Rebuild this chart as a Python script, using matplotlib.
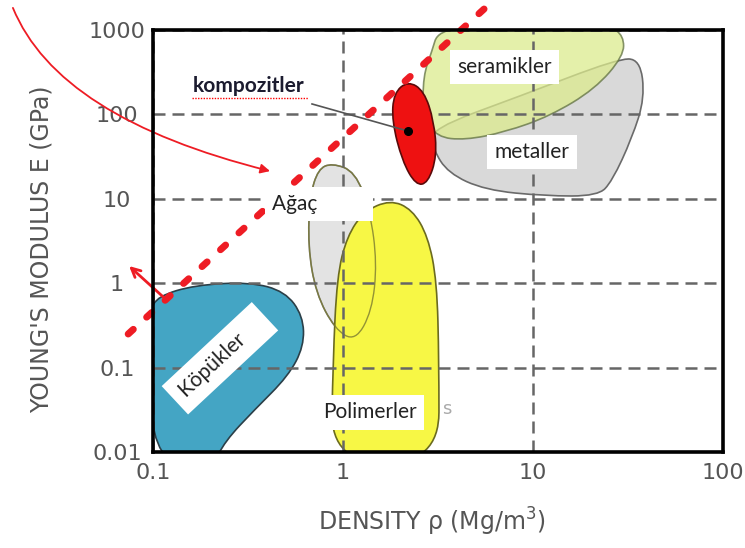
import numpy as np
import matplotlib
matplotlib.use("Agg")
import matplotlib.pyplot as plt
from matplotlib.path import Path
from matplotlib.patches import PathPatch, FancyArrowPatch

# outlines of the material families, density (Mg/m3) vs modulus (GPa)
foam_rho = [0.0964, 0.0964, 0.106, 0.166, 0.324, 0.495, 0.616, 0.623, 0.514, 0.344, 0.239, 0.205]
foam_E = [0.0078, 0.466, 0.70, 0.95, 1.03, 0.80, 0.41, 0.179, 0.079, 0.032, 0.0134, 0.0067]

poly_rho = [0.865, 0.886, 0.93, 1.05, 1.29, 1.77, 2.31, 2.80, 3.12, 3.2, 3.2]
poly_E = [0.0074, 0.119, 1.21, 3.6, 7.1, 9.7, 7.5, 3.6, 1.06, 0.119, 0.0074]

wood_rho = [0.875, 1.16, 1.39, 1.51, 1.42, 1.16, 0.908, 0.72, 0.654, 0.67, 0.74]
wood_E = [26.5, 21, 7.1, 1.73, 0.466, 0.205, 0.284, 0.76, 2.75, 10.8, 22.5]

cer_rho = [2.94, 3.16, 5.26, 12.3, 25.4, 30.0, 30.0, 21.2, 12.3, 7.12, 4.39, 3.12, 2.64, 2.64]
cer_E = [565, 975, 1150, 1150, 1119, 851, 493, 200, 95.7, 61.8, 49.7, 53.9, 95.7, 285]

met_rho = [2.87, 8.55, 27.7, 36.6, 38.8, 33.2, 26.1, 22.0, 11.6, 5.59, 3.57, 2.98]
met_E = [67, 165, 454, 454, 157, 52.5, 16.2, 10.8, 10.8, 12.7, 20.2, 38.9]

comp_rho = [2.2, 2.67, 3.01, 3.12, 2.8, 2.42, 2.05, 1.81, 1.85]
comp_E = [249, 190, 83.5, 32.1, 15.4, 14.5, 28, 83.5, 179]
comp_point = (2.2, 63.5)

# E^(1/2)/rho guide line
guide_rho = [0.074, 6.0]
guide_E = [0.25, 2100]

x_ticks = [0.1, 1, 10, 100]
x_labels = ["0.1", "1", "10", "100"]
y_ticks = [0.01, 0.1, 1, 10, 100, 1000]
y_labels = ["0.01", "0.1", "1", "10", "100", "1000"]

RED = "#ee1c24"


def smooth_patch(ax, xs, ys, **kw):
    # closed quadratic b-spline through the outline points (geometric midpoints for log axes)
    pts = np.column_stack([xs, ys]).astype(float)
    mids = np.sqrt(pts * np.roll(pts, -1, axis=0))
    verts = [mids[-1]]
    codes = [Path.MOVETO]
    for i in range(len(pts)):
        verts += [pts[i], mids[i]]
        codes += [Path.CURVE3, Path.CURVE3]
    verts.append(mids[-1])
    codes.append(Path.CLOSEPOLY)
    patch = PathPatch(Path(verts, codes), transform=ax.transData, **kw)
    ax.add_patch(patch)
    return patch


fig = plt.figure(figsize=(7.45, 5.48), dpi=100)
ax = fig.add_axes([0.2054, 0.1752, 0.765, 0.770])
ax.set_xscale("log")
ax.set_yscale("log")
ax.set_xlim(0.1, 100)
ax.set_ylim(0.01, 1000)

# material families
smooth_patch(ax, foam_rho, foam_E, fc="#44a5c4", ec="#2b3f48", lw=1.2, zorder=1)
smooth_patch(ax, met_rho, met_E, fc="#d9d9d9", ec="#6a6a6a", lw=1.2, zorder=1)
smooth_patch(ax, cer_rho, cer_E, fc="#dceb8e", ec="#5f7040", lw=1.2, alpha=0.75, zorder=1.1)
smooth_patch(ax, wood_rho, wood_E, fc="#e3e3e3", ec="#7a7a7a", lw=1.2, zorder=1)
smooth_patch(ax, poly_rho, poly_E, fc="#f7f745", ec="#6b6b1f", lw=1.2, zorder=1.2)
smooth_patch(ax, wood_rho, wood_E, fc="none", ec="#7a7a30", lw=1.0, alpha=0.8, zorder=1.3)
smooth_patch(ax, comp_rho, comp_E, fc="#ee1111", ec="#5a0a0a", lw=1.2, zorder=3)

# grid / frame
ax.set_axisbelow(False)
ax.grid(True, which="major", color="#666666", lw=1.8, linestyle=(0, (4.8, 2.8)))
ax.minorticks_off()
ax.set_xticks(x_ticks)
ax.set_xticklabels(x_labels)
ax.set_yticks(y_ticks)
ax.set_yticklabels(y_labels)
ax.tick_params(axis="both", length=0, labelsize=16, labelcolor="#555555")
ax.tick_params(axis="x", pad=8)
ax.tick_params(axis="y", pad=26)
for lab in ax.get_yticklabels():
    lab.set_horizontalalignment("center")
for sp in ax.spines.values():
    sp.set_linewidth(2.6)
    sp.set_color("black")
    sp.set_zorder(6)

# guide line and arrows
ax.plot(guide_rho, guide_E, color=RED, lw=5, linestyle=(0, (1.0, 2.6)),
        dash_capstyle="round", clip_on=False, zorder=4)

curve = Path([(0.0183, 1830), (0.0316, 90.6), (0.413, 21.3)],
             [Path.MOVETO, Path.CURVE3, Path.CURVE3])
arr = FancyArrowPatch(path=curve, arrowstyle="-|>", mutation_scale=14,
                      color=RED, lw=1.3, transform=ax.transData, clip_on=False, zorder=5)
ax.add_patch(arr)
ax.annotate("", xy=(0.073, 1.68), xytext=(0.12, 0.61),
            arrowprops=dict(arrowstyle="->", color=RED, lw=2, mutation_scale=16),
            annotation_clip=False, zorder=5)

# composites pointer
ax.plot([0.687, comp_point[0]], [133, comp_point[1]], color="#555555", lw=1.2, zorder=4.5)
ax.plot(*comp_point, "o", color="black", ms=5.5, zorder=4.6)

# labels
lab_font = "Lato"
box = dict(boxstyle="square,pad=0.35", fc="white", ec="none")
ax.text(7.12, 365, "seramikler", fontsize=15, family=lab_font, color="#222222",
        ha="center", va="center", bbox=box, zorder=7)
ax.text(9.88, 35.8, "metaller", fontsize=15, family=lab_font, color="#222222",
        ha="center", va="center", bbox=box, zorder=7)
ax.text(0.423, 8.65, "Ağaç" + " " * 9, fontsize=15, family=lab_font, color="#222222",
        ha="left", va="center", bbox=box, zorder=7)
ax.text(1.39, 0.0295, "Polimerler", fontsize=15, family=lab_font, color="#222222",
        ha="center", va="center", bbox=box, zorder=7)
ax.text(3.53, 0.032, "s", fontsize=13, color="#aaaaaa", ha="center", va="center", zorder=2)
ax.text(0.225, 0.129, "Köpükler" + " " * 4, fontsize=15, family=lab_font, color="#222222",
        ha="center", va="center", rotation=43, rotation_mode="anchor",
        bbox=dict(boxstyle="square,pad=0.45", fc="white", ec="none"), zorder=7)
ax.text(0.32, 217, "kompozitler", fontsize=15, family=lab_font, weight="bold",
        color="#1b1b2f", ha="center", va="center", zorder=7, clip_on=False)
ax.plot([0.16, 0.655], [157, 157], color="red", lw=1, linestyle=(0, (1, 1)),
        clip_on=False, zorder=7)

# axis titles
fig.text(42 / 745, 1 - 249 / 548, "YOUNG'S MODULUS E (GPa)", rotation=90,
         fontsize=17, color="#555555", ha="center", va="center")
fig.text(432 / 745, 1 - 522 / 548, "DENSITY ρ (Mg/m$^3$)",
         fontsize=17, color="#555555", ha="center", va="center")

fig.savefig("out.png", dpi=100, facecolor="white")
